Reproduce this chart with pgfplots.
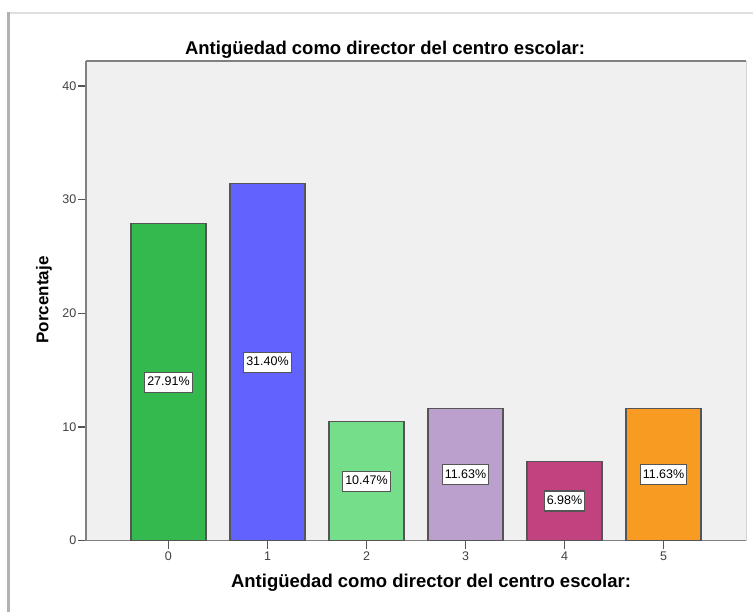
\documentclass[border=0pt]{standalone}
\usepackage{fontspec}
\setmainfont{Liberation Sans}
\usepackage{pgfplots}
\pgfplotsset{compat=1.18}
\usepackage{pgfplotstable}

\definecolor{bgray}{RGB}{240,240,240}
\definecolor{axgray}{RGB}{128,128,128}
\definecolor{edge}{RGB}{85,85,85}
\definecolor{c0}{RGB}{52,185,78}
\definecolor{c1}{RGB}{98,98,255}
\definecolor{c2}{RGB}{117,222,138}
\definecolor{c3}{RGB}{187,160,205}
\definecolor{c4}{RGB}{192,67,128}
\definecolor{c5}{RGB}{248,155,35}

% porcentaje por categoria de antiguedad
\pgfplotstableread{
x y
0 27.91
1 31.40
2 10.47
3 11.63
4 6.98
5 11.63
}\antig

\pgfplotsset{
  only row/.style={x filter/.code={\ifnum\coordindex=#1\relax\else\def\pgfmathresult{}\fi}},
  spssbar/.style={ybar, bar width=75pt, bar shift=0pt, draw=edge, line width=1.2pt, fill=#1},
}

\begin{document}
\begin{tikzpicture}
\fill[white] (0,0) rectangle (753pt,612pt);
\useasboundingbox (0,0) rectangle (753pt,612pt);
% marco exterior
\draw[gray!25, line width=1.5pt] (8pt,599pt) -- (753pt,599pt);
\draw[gray!60, line width=3pt] (8.5pt,0pt) -- (8.5pt,600pt);

\begin{axis}[
  at={(86pt,71.3pt)}, anchor=south west,
  scale only axis,
  width=660pt, height=479.7pt,
  xmin=-0.833, xmax=5.833,
  ymin=0, ymax=42.2,
  axis lines*=left,
  axis line style={axgray, line width=1.5pt},
  axis background/.style={fill=bgray},
  xtick={0,...,5},
  ytick={0,10,20,30,40},
  tick align=outside,
  major tick length=8pt,
  tick style={edge, line width=1.3pt},
  ticklabel style={font=\fontsize{12.5}{13}\selectfont, text=black!75},
  yticklabel style={inner xsep=1.5pt},
  /pgf/number format/assume math mode=true,
  clip=false,
]
\addplot[spssbar=c0] table[x=x, y=y, only row=0] {\antig};
\addplot[spssbar=c1] table[x=x, y=y, only row=1] {\antig};
\addplot[spssbar=c2] table[x=x, y=y, only row=2] {\antig};
\addplot[spssbar=c3] table[x=x, y=y, only row=3] {\antig};
\addplot[spssbar=c4] table[x=x, y=y, only row=4] {\antig};
\addplot[spssbar=c5] table[x=x, y=y, only row=5] {\antig};

% etiquetas a media altura de cada barra
\addplot[draw=none, point meta=explicit,
  nodes near coords={\pgfmathprintnumber[fixed, fixed zerofill, precision=2]{\pgfplotspointmeta}\%},
  every node near coord/.style={anchor=center, fill=white, draw=edge, line width=1.1pt,
    font=\fontsize{12.5}{13}\selectfont, inner xsep=2.5pt, inner ysep=4.5pt,
    text height=9pt, text depth=2pt}]
  table[x=x, y expr=\thisrow{y}/2, meta=y] {\antig};

\draw[axgray, line width=2.6pt] (rel axis cs:0,1) -- (rel axis cs:1,1);
\draw[gray!35, line width=1pt] (rel axis cs:1,0) -- (rel axis cs:1,1);
\end{axis}

\node[anchor=base, font=\bfseries\fontsize{18.5}{20}\selectfont] at (385pt,557pt)
  {Antigüedad como director del centro escolar:};
\node[anchor=base, font=\bfseries\fontsize{18.5}{20}\selectfont] at (431pt,24pt)
  {Antigüedad como director del centro escolar:};
\node[rotate=90, font=\bfseries\fontsize{17}{18}\selectfont] at (44pt,312pt) {Porcentaje};
\end{tikzpicture}
\end{document}
